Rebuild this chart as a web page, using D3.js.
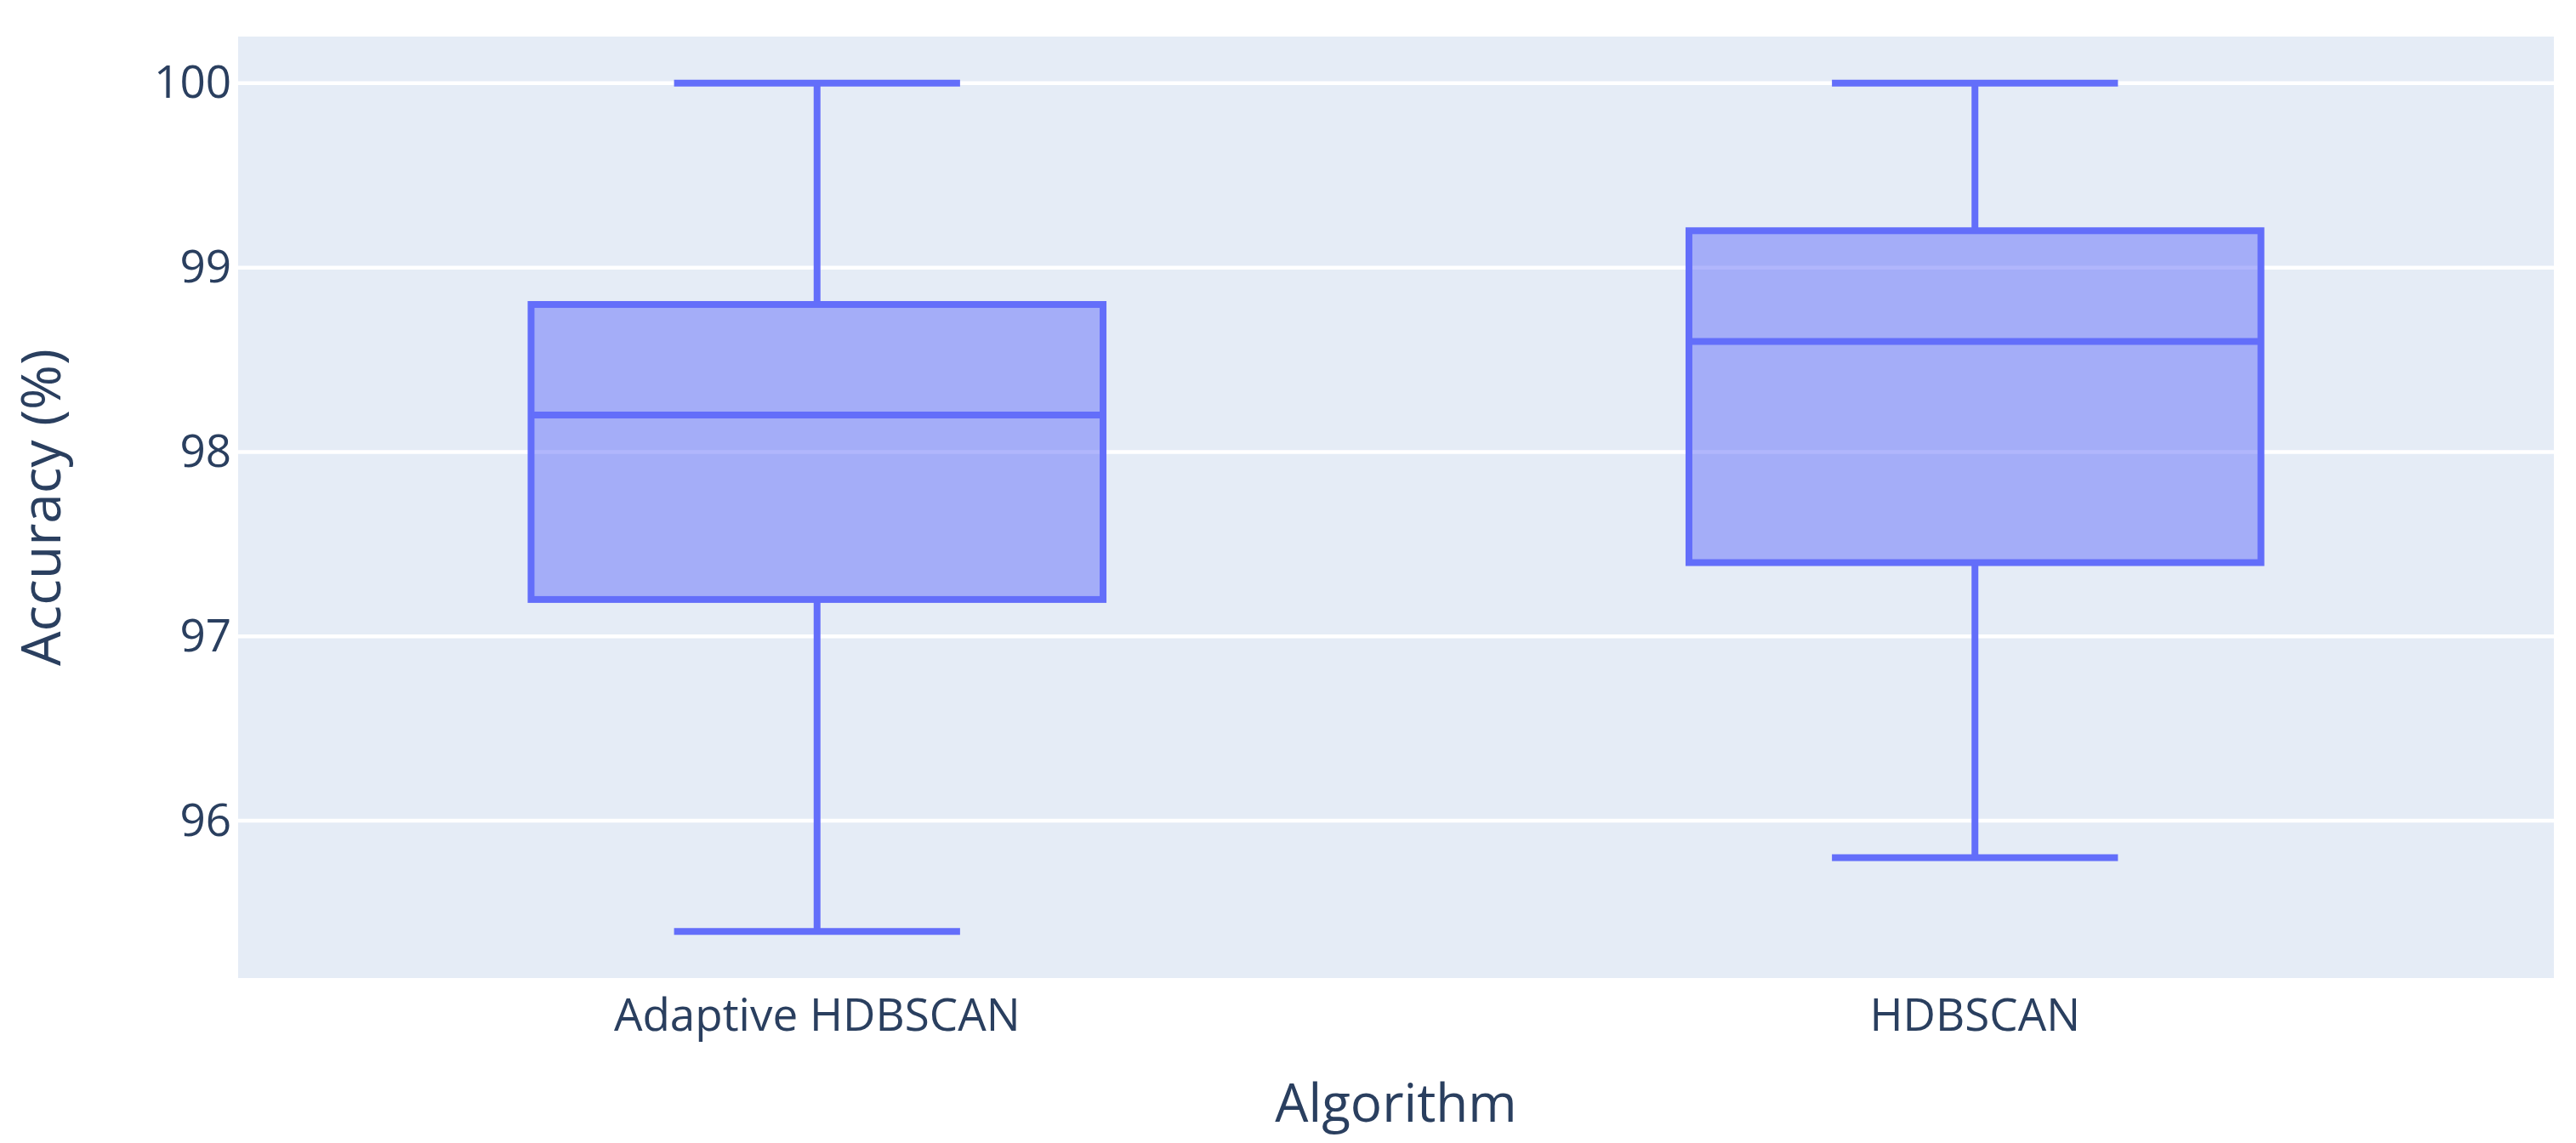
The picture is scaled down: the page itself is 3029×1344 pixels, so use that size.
<!DOCTYPE html>
<html>
<head>
<meta charset="utf-8">
<script src="https://cdn.jsdelivr.net/npm/d3@7"></script>
<style>
  body { margin: 0; background: #fff; }
  text { font-family: "Open Sans", verdana, arial, sans-serif; fill: #2a3f5f; }
</style>
</head>
<body>
<svg id="chart" width="3029" height="1344"></svg>
<script>
// data
const algorithms = ["Adaptive HDBSCAN", "HDBSCAN"];
const minVals    = [95.4, 95.8];
const q1Vals     = [97.2, 97.4];
const medianVals = [98.2, 98.6];
const q3Vals     = [98.8, 99.2];
const maxVals    = [100, 100];
const yTicks     = [96, 97, 98, 99, 100];

const boxes = algorithms.map((a, i) => ({
  name: a, min: minVals[i], q1: q1Vals[i], median: medianVals[i], q3: q3Vals[i], max: maxVals[i]
}));

const width = 3029, height = 1344;
const margin = {top: 43, right: 26, bottom: 194, left: 280};
const plotW = width - margin.left - margin.right;
const plotH = height - margin.top - margin.bottom;

const svg = d3.select("#chart");
const g = svg.append("g").attr("transform", `translate(${margin.left},${margin.top})`);

// plot background
g.append("rect")
  .attr("width", plotW)
  .attr("height", plotH)
  .attr("fill", "#e5ecf6");

const lo = d3.min(minVals), hi = d3.max(maxVals);
const pad = (hi - lo) * 0.055;

const xScale = d3.scaleBand().domain(algorithms).range([0, plotW]).padding(0);
const yScale = d3.scaleLinear().domain([lo - pad, hi + pad]).range([plotH, 0]);

// gridlines
g.selectAll(".grid")
  .data(yTicks)
  .enter()
  .append("line")
  .attr("class", "grid")
  .attr("x1", 0)
  .attr("x2", plotW)
  .attr("y1", d => yScale(d))
  .attr("y2", d => yScale(d))
  .attr("stroke", "#fff")
  .attr("stroke-width", 4.5);

// y axis labels
const yAxis = g.append("g")
  .call(d3.axisLeft(yScale).tickValues(yTicks).tickFormat(d3.format("d")).tickSize(0).tickPadding(8));
yAxis.select(".domain").remove();
yAxis.selectAll("text")
  .style("font-size", "53px")
  .attr("fill", "#2a3f5f");

// x axis labels
const xAxis = g.append("g")
  .attr("transform", `translate(0,${plotH})`)
  .call(d3.axisBottom(xScale).tickSize(0).tickPadding(24));
xAxis.select(".domain").remove();
xAxis.selectAll("text")
  .style("font-size", "53px")
  .attr("fill", "#2a3f5f");

// boxes
const boxW = xScale.bandwidth() * 0.494;
const capW = boxW / 2;
const color = "#636efa";

const bx = g.selectAll(".box")
  .data(boxes)
  .enter()
  .append("g")
  .attr("class", "box")
  .attr("transform", d => `translate(${xScale(d.name) + xScale.bandwidth() / 2},0)`);

// whiskers
bx.append("line")
  .attr("x1", 0).attr("x2", 0)
  .attr("y1", d => yScale(d.q3)).attr("y2", d => yScale(d.max))
  .attr("stroke", color).attr("stroke-width", 8);
bx.append("line")
  .attr("x1", 0).attr("x2", 0)
  .attr("y1", d => yScale(d.q1)).attr("y2", d => yScale(d.min))
  .attr("stroke", color).attr("stroke-width", 8);

// caps
bx.append("line")
  .attr("x1", -capW / 2).attr("x2", capW / 2)
  .attr("y1", d => yScale(d.max)).attr("y2", d => yScale(d.max))
  .attr("stroke", color).attr("stroke-width", 8);
bx.append("line")
  .attr("x1", -capW / 2).attr("x2", capW / 2)
  .attr("y1", d => yScale(d.min)).attr("y2", d => yScale(d.min))
  .attr("stroke", color).attr("stroke-width", 8);

// box body
bx.append("rect")
  .attr("x", -boxW / 2)
  .attr("width", boxW)
  .attr("y", d => yScale(d.q3))
  .attr("height", d => yScale(d.q1) - yScale(d.q3))
  .attr("fill", color)
  .attr("fill-opacity", 0.5)
  .attr("stroke", color)
  .attr("stroke-width", 8);

// median
bx.append("line")
  .attr("x1", -boxW / 2).attr("x2", boxW / 2)
  .attr("y1", d => yScale(d.median)).attr("y2", d => yScale(d.median))
  .attr("stroke", color).attr("stroke-width", 8);

// axis titles
svg.append("text")
  .attr("x", margin.left + plotW / 2)
  .attr("y", 1319)
  .attr("text-anchor", "middle")
  .style("font-size", "62px")
  .text("Algorithm");

svg.append("text")
  .attr("transform", `translate(71,${margin.top + plotH / 2}) rotate(-90)`)
  .attr("text-anchor", "middle")
  .style("font-size", "64px")
  .text("Accuracy (%)");
</script>
</body>
</html>
